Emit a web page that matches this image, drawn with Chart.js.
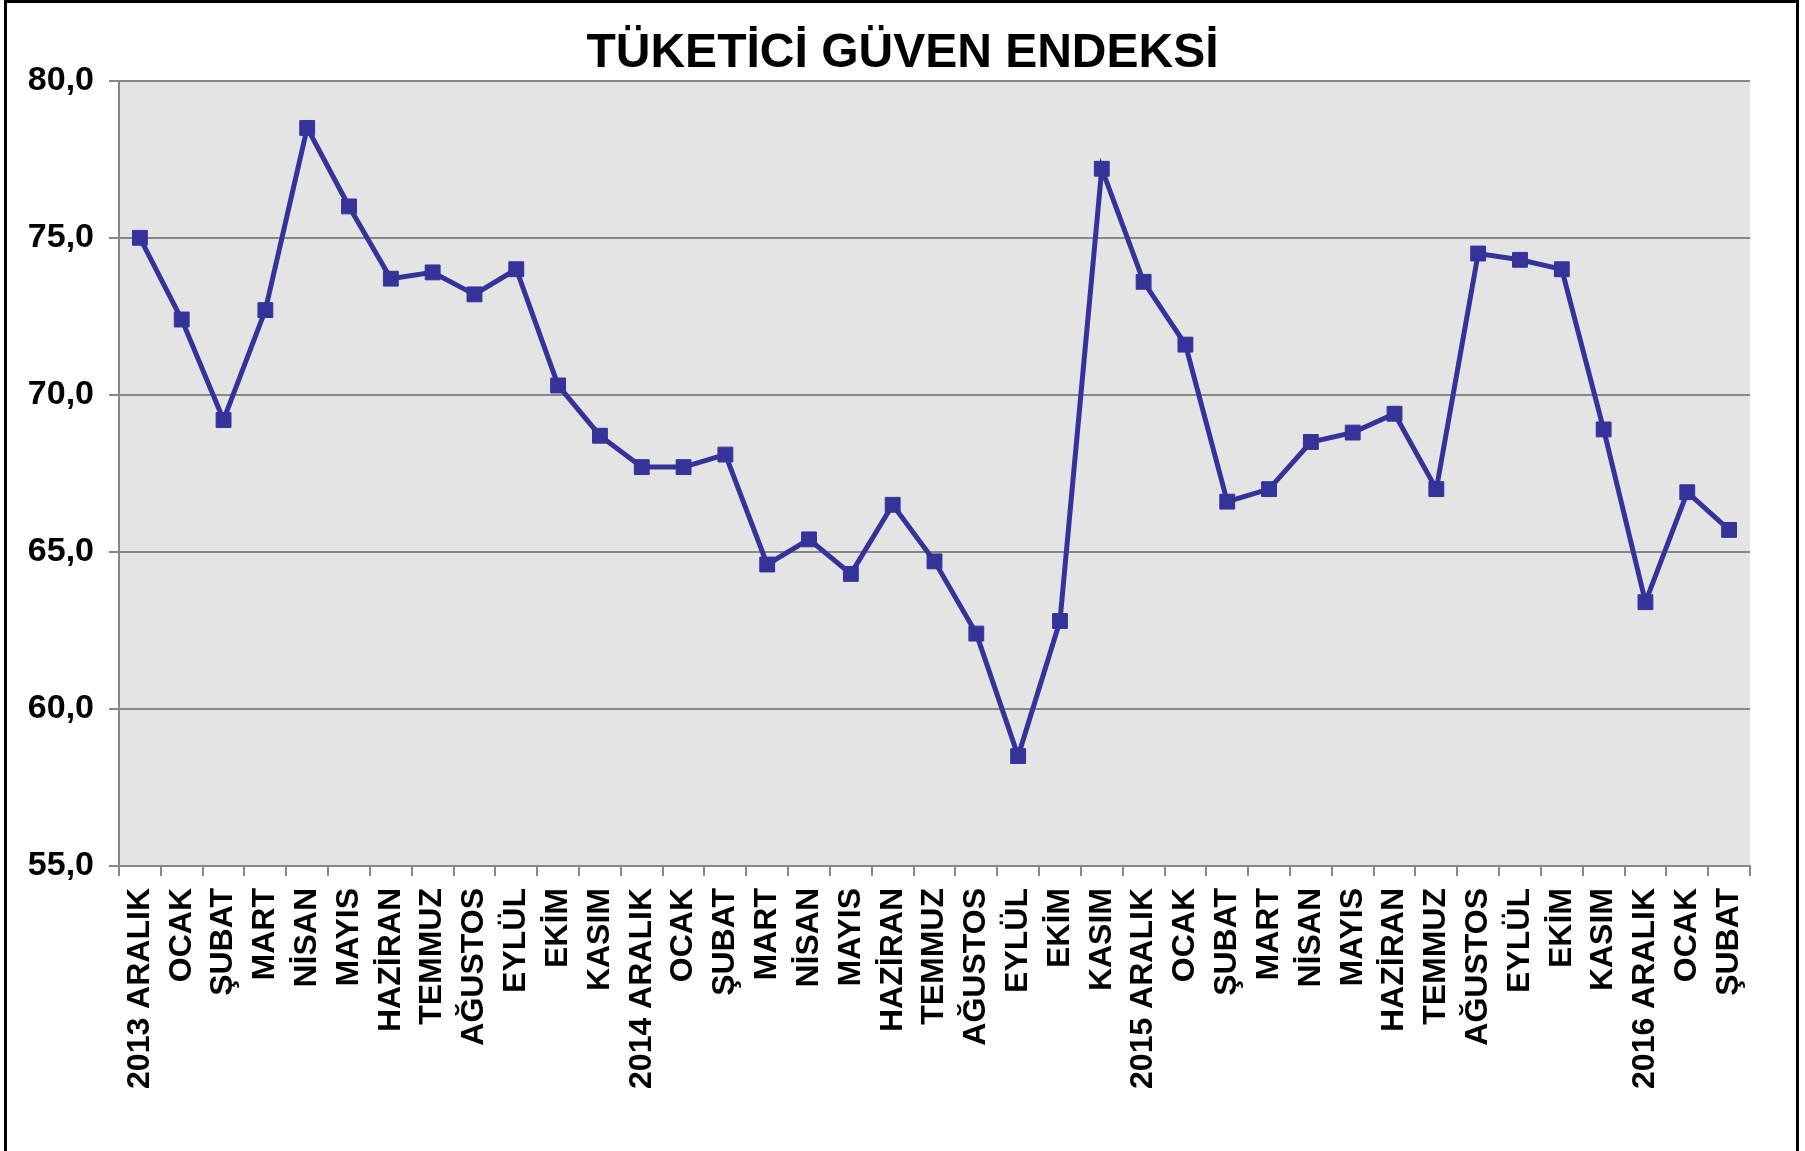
<!DOCTYPE html>
<html lang="tr">
<head>
<meta charset="utf-8">
<title>Tüketici Güven Endeksi</title>
<script src="https://cdn.jsdelivr.net/npm/chart.js@4.4.1/dist/chart.umd.min.js"></script>
<style>
    html, body { margin: 0; padding: 0; background: #fff; overflow: hidden; }
    #marco {
        position: absolute; left: 4px; top: 0; width: 1795px; height: 1200px;
        border: 3px solid #000; box-sizing: border-box;
    }
    #grafica { position: absolute; left: 0; top: 0; }
</style>
</head>
<body>
<div id="marco"></div>
<canvas id="grafica" width="1805" height="1151"></canvas>
<script>
// Etiquetas de meses (eje X)
const meses = [
    '2013 ARALIK', 'OCAK', 'ŞUBAT', 'MART', 'NİSAN', 'MAYIS', 'HAZİRAN', 'TEMMUZ', 'AĞUSTOS', 'EYLÜL', 'EKİM', 'KASIM',
    '2014 ARALIK', 'OCAK', 'ŞUBAT', 'MART', 'NİSAN', 'MAYIS', 'HAZİRAN', 'TEMMUZ', 'AĞUSTOS', 'EYLÜL', 'EKİM', 'KASIM',
    '2015 ARALIK', 'OCAK', 'ŞUBAT', 'MART', 'NİSAN', 'MAYIS', 'HAZİRAN', 'TEMMUZ', 'AĞUSTOS', 'EYLÜL', 'EKİM', 'KASIM',
    '2016 ARALIK', 'OCAK', 'ŞUBAT'
];

// Valores del índice
const endeksDegerleri = [
    75.0, 72.4, 69.2, 72.7, 78.5, 76.0, 73.7, 73.9, 73.2, 74.0, 70.3, 68.7,
    67.7, 67.7, 68.1, 64.6, 65.4, 64.3, 66.5, 64.7, 62.4, 58.5, 62.8, 77.2,
    73.6, 71.6, 66.6, 67.0, 68.5, 68.8, 69.4, 67.0, 74.5, 74.3, 74.0, 68.9,
    63.4, 66.9, 65.7
];

// Marcas del eje Y
const marcasY = [55, 60, 65, 70, 75, 80];

const fuente = "'Liberation Sans', Arial, sans-serif";
const gris = '#878787';

// Fondo gris del área de trazado
const fondoArea = {
    id: 'fondoArea',
    beforeDraw(chart) {
        const a = chart.chartArea;
        const ctx = chart.ctx;
        ctx.save();
        ctx.fillStyle = '#e4e4e4';
        ctx.fillRect(a.left, a.top, a.right - a.left, a.bottom - a.top);
        ctx.restore();
    }
};

const ctx = document.getElementById('grafica').getContext('2d');
window.graficaEndeks = new Chart(ctx, {
    type: 'line',
    data: {
        labels: meses,
        datasets: [{
            label: 'Tüketici Güven Endeksi',
            data: endeksDegerleri,
            borderColor: '#333399',
            backgroundColor: '#333399',
            borderWidth: 5,
            tension: 0,
            pointStyle: 'rect',
            pointRadius: 10.5,
            pointBorderWidth: 1,
            pointBorderColor: '#333399',
            pointBackgroundColor: '#333399'
        }]
    },
    options: {
        responsive: false,
        animation: false,
        layout: {
            padding: { left: 0, right: 0, top: 0, bottom: 0 }
        },
        scales: {
            x: {
                offset: true,
                afterFit: function (scale) { scale.height = 285; },
                grid: {
                    offset: true,
                    drawOnChartArea: false,
                    drawTicks: true,
                    tickLength: 10,
                    color: gris,
                    lineWidth: 2
                },
                border: { display: true, color: gris, width: 2 },
                ticks: {
                    autoSkip: false,
                    minRotation: 90,
                    maxRotation: 90,
                    padding: 12,
                    color: '#000',
                    font: { family: fuente, size: 32, weight: 'bold' }
                }
            },
            y: {
                min: 55,
                max: 80,
                afterFit: function (scale) { scale.width = 119; },
                afterBuildTicks: function (scale) {
                    scale.ticks = marcasY.map(v => ({ value: v }));
                },
                grid: {
                    color: gris,
                    lineWidth: 2,
                    tickLength: 10
                },
                border: { display: true, color: gris, width: 2 },
                ticks: {
                    padding: 15,
                    color: '#000',
                    font: { family: fuente, size: 34, weight: 'bold' },
                    callback: function (value) {
                        return value.toFixed(1).replace('.', ',');
                    }
                }
            },
            // eje vacío a la derecha, solo para dejar el margen y centrar el título
            margenDer: {
                position: 'right',
                display: true,
                afterFit: function (scale) { scale.width = 55; },
                grid: { display: false },
                border: { display: false },
                ticks: { display: false }
            }
        },
        plugins: {
            legend: { display: false },
            tooltip: { enabled: false },
            title: {
                display: true,
                text: 'TÜKETİCİ GÜVEN ENDEKSİ',
                color: '#000',
                font: { family: fuente, size: 48, weight: 'bold', lineHeight: 1.1 },
                padding: { top: 27, bottom: 1 }
            }
        }
    },
    plugins: [fondoArea]
});
</script>
</body>
</html>
